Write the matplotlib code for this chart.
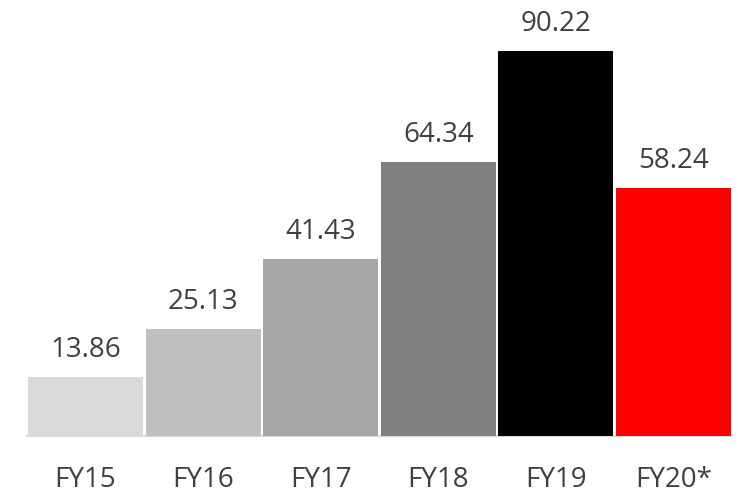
import matplotlib
matplotlib.use("Agg")
import matplotlib.pyplot as plt

categories = ["FY15", "FY16", "FY17", "FY18", "FY19", "FY20*"]
values = [13.86, 25.13, 41.43, 64.34, 90.22, 58.24]
labels = ["13.86", "25.13", "41.43", "64.34", "90.22", "58.24"]
colors = ["#D9D9D9", "#BFBFBF", "#A6A6A6", "#808080", "#000000", "#FF0000"]

plt.rcParams['font.family'] = ['Open Sans', 'DejaVu Sans']
fig = plt.figure(figsize=(7.38, 4.93), dpi=100)
ax = fig.add_axes([26.7/738, 57/493, (732.3-26.7)/738, 436/493])

x = list(range(len(categories)))
bars = ax.bar(x, values, width=0.978, color=colors, zorder=2)
ax.set_xlim(-0.5, len(categories) - 0.5)
ax.set_ylim(0, 102.2)

for xi, v, lab in zip(x, values, labels):
    ax.annotate(lab, (xi, v), xytext=(0, 14.4), textcoords="offset points",
                ha="center", va="baseline", fontsize=20, color="#404040")

ax.set_xticks(x)
ax.set_xticklabels(categories, fontsize=20, color="#404040")
ax.tick_params(axis="x", length=0, pad=21.5)
ax.set_yticks([])
for s in ["top", "left", "right"]:
    ax.spines[s].set_visible(False)
ax.spines["bottom"].set_color("#D9D9D9")
ax.spines["bottom"].set_linewidth(1.5)
ax.spines["bottom"].set_zorder(1)

fig.savefig("out.png", dpi=100)
